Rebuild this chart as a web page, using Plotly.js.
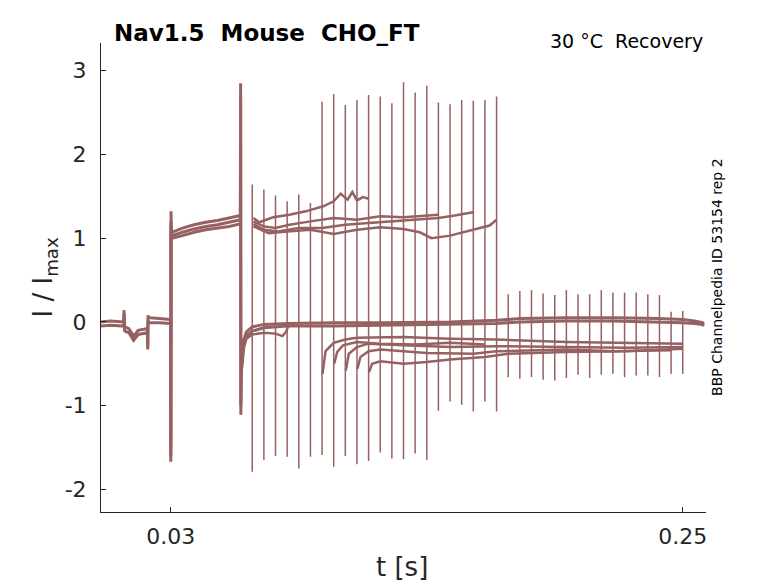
<!DOCTYPE html>
<html>
<head>
<meta charset="utf-8">
<script src="https://cdn.plot.ly/plotly-3.0.1.min.js"></script>
<style>
  html, body { margin: 0; padding: 0; background: #fff; }
  #plot { width: 778px; height: 583px; }
</style>
</head>
<body>
<div id="plot"></div>
<script>
// holding + first pulse (P1), several sweeps overlap so a few edges are drawn
var holdT = [0, 0.004, 0.0098, 0.0099, 0.0101, 0.0103, 0.012, 0.014, 0.016, 0.018, 0.0199, 0.0201, 0.0202, 0.0204, 0.025, 0.0299];
var holdI = [0.0, 0.01, 0.0, 0.14, -0.05, -0.06, -0.08, -0.17, -0.1, -0.09, -0.08, -0.33, 0.08, 0.05, 0.04, 0.03];
var holdI2 = [-0.05, -0.04, -0.05, 0.1, -0.1, -0.11, -0.13, -0.22, -0.15, -0.14, -0.13, -0.3, 0.02, -0.01, -0.01, -0.02];

var p1T = [0.0299, 0.03, 0.0301, 0.0302, 0.0305, 0.035, 0.04, 0.045, 0.05, 0.055, 0.0599];
var p1I = [0.03, -1.67, 1.32, 1.08, 1.07, 1.12, 1.16, 1.19, 1.21, 1.24, 1.27];
var p1I2 = [0.02, -1.6, 1.2, 1.03, 1.03, 1.07, 1.11, 1.14, 1.16, 1.19, 1.22];
var p1I3 = [0.0, -1.5, 1.15, 1.0, 1.0, 1.03, 1.07, 1.1, 1.12, 1.14, 1.17];

// back to holding after P1 (baseline up to the end)
var baseT = [0.0599, 0.06, 0.0601, 0.0603, 0.061, 0.0625, 0.065, 0.07, 0.08, 0.1, 0.12, 0.15, 0.17, 0.18, 0.2, 0.22, 0.24, 0.25, 0.255, 0.2585, 0.259];
var baseI = [1.24, 2.85, -1.11, -0.53, -0.25, -0.12, -0.06, -0.03, -0.02, -0.01, -0.01, 0.0, 0.02, 0.04, 0.05, 0.05, 0.04, 0.03, 0.01, -0.01, -0.03];
var baseI2 = [1.18, 2.7, -1.0, -0.6, -0.3, -0.17, -0.11, -0.07, -0.05, -0.05, -0.04, -0.03, -0.02, 0.0, 0.01, 0.01, 0.0, -0.01, -0.02, -0.03, -0.05];
var dipT = [0.0603, 0.0615, 0.0625, 0.065, 0.07, 0.075, 0.078, 0.0795, 0.0805];
var dipI = [-0.62, -0.3, -0.2, -0.15, -0.13, -0.14, -0.17, -0.12, -0.05];

// upper group (second pulse level), one array pair per sweep
var up1T = [0.0655, 0.068, 0.074, 0.081, 0.088, 0.0955, 0.1, 0.103, 0.106, 0.108, 0.11, 0.1125, 0.115];
var up1I = [1.24, 1.19, 1.25, 1.28, 1.32, 1.38, 1.44, 1.53, 1.46, 1.55, 1.45, 1.49, 1.47];
var up2T = [0.0655, 0.07, 0.075, 0.081, 0.09, 0.1, 0.11, 0.12, 0.13, 0.14, 0.145];
var up2I = [1.2, 1.14, 1.12, 1.16, 1.2, 1.24, 1.22, 1.26, 1.25, 1.27, 1.28];
var up3T = [0.0655, 0.07, 0.076, 0.085, 0.095, 0.105, 0.115, 0.125, 0.135, 0.145, 0.152, 0.16];
var up3I = [1.17, 1.1, 1.08, 1.12, 1.12, 1.16, 1.18, 1.2, 1.22, 1.24, 1.27, 1.31];
var up4T = [0.0655, 0.072, 0.08, 0.09, 0.1, 0.11, 0.12, 0.13, 0.137, 0.142, 0.15, 0.16, 0.167, 0.17];
var up4I = [1.14, 1.06, 1.08, 1.1, 1.05, 1.1, 1.13, 1.11, 1.07, 1.0, 1.03, 1.1, 1.15, 1.22];

// lower group (after the second pulse)
var lo1T = [0.0952, 0.0965, 0.1, 0.105, 0.11, 0.13, 0.15, 0.17, 0.2, 0.225, 0.25];
var lo1I = [-0.62, -0.35, -0.25, -0.21, -0.19, -0.18, -0.2, -0.21, -0.24, -0.25, -0.26];
var lo2T = [0.1052, 0.1065, 0.11, 0.115, 0.13, 0.15, 0.17, 0.2, 0.225, 0.25];
var lo2I = [-0.58, -0.38, -0.3, -0.26, -0.28, -0.3, -0.29, -0.3, -0.31, -0.3];
var lo3T = [0.1102, 0.1115, 0.115, 0.12, 0.14, 0.16, 0.17, 0.2, 0.22, 0.245];
var lo3I = [-0.56, -0.42, -0.35, -0.33, -0.37, -0.38, -0.35, -0.33, -0.35, -0.34];
var lo4T = [0.1152, 0.1165, 0.12, 0.13, 0.14, 0.15, 0.165, 0.175, 0.2, 0.225, 0.25];
var lo4I = [-0.6, -0.5, -0.47, -0.5, -0.48, -0.45, -0.42, -0.38, -0.36, -0.35, -0.32];
var lo5T = [0.1002, 0.1015, 0.104, 0.11, 0.12, 0.135, 0.15, 0.165];
var lo5I = [-0.5, -0.36, -0.28, -0.24, -0.26, -0.27, -0.25, -0.27];

// capacitive artefacts of the test steps
var stepT = [0.065, 0.07, 0.075, 0.08, 0.085, 0.09, 0.095, 0.1, 0.105, 0.11, 0.115, 0.12, 0.125,
             0.13, 0.135, 0.14, 0.145, 0.15, 0.155, 0.16, 0.165, 0.17, 0.175, 0.18, 0.185,
             0.19, 0.195, 0.2, 0.205, 0.21, 0.215, 0.22, 0.225, 0.23, 0.235, 0.24, 0.245, 0.25];
var stepTop = [1.64, 1.58, 1.51, 1.44, 1.52, 1.42, 2.63, 2.72, 2.59, 2.65, 2.71, 2.69, 2.61,
               2.86, 2.74, 2.82, 2.62, 2.6, 2.65, 2.64, 2.65, 2.69, 0.33, 0.37, 0.38,
               0.34, 0.32, 0.38, 0.33, 0.33, 0.38, 0.35, 0.35, 0.35, 0.33, 0.32, 0.12, 0.13];
var stepBot = [-1.79, -1.65, -1.6, -1.61, -1.75, -1.61, -1.59, -1.73, -1.6, -1.7, -1.66, -1.56, -1.63,
               -1.64, -1.57, -1.65, -1.06, -0.95, -0.99, -1.07, -0.95, -1.07, -0.66, -0.68, -0.66,
               -0.69, -0.7, -0.67, -0.63, -0.67, -0.63, -0.62, -0.66, -0.64, -0.64, -0.66, -0.62, -0.62];

var yTicks = [-2, -1, 0, 1, 2, 3];
var yTickText = ["-2", "-1", "0", "1", "2", "3"];
var xTicks = [0.03, 0.25];
var xTickText = ["0.03", "0.25"];

var col = "#966161";
var font = "DejaVu Sans, Liberation Sans, sans-serif";

function line(x, y, w) {
    return {x: x, y: y, type: "scatter", mode: "lines",
            line: {color: col, width: w}, hoverinfo: "skip"};
}

var sx = [], sy = [];
for (var i = 0; i < stepT.length; i++) {
    sx.push(stepT[i], stepT[i], null);
    sy.push(stepBot[i], stepTop[i], null);
}

var data = [
    line(holdT, holdI, 3), line(holdT, holdI2, 3),
    line(p1T, p1I, 3), line(p1T, p1I2, 3), line(p1T, p1I3, 3),
    line(baseT, baseI, 3), line(baseT, baseI2, 3),
    line(dipT, dipI, 2.5),
    line(up1T, up1I, 2.5), line(up2T, up2I, 2.5), line(up3T, up3I, 2.5), line(up4T, up4I, 2.5),
    line(lo1T, lo1I, 2.5), line(lo2T, lo2I, 2.5), line(lo3T, lo3I, 2.5), line(lo4T, lo4I, 2.5), line(lo5T, lo5I, 2.5),
    line(sx, sy, 1.5)
];

var layout = {
    width: 778, height: 583,
    margin: {l: 101, r: 72, t: 43, b: 71},
    paper_bgcolor: "#fff", plot_bgcolor: "#fff",
    showlegend: false,
    font: {family: font, color: "#262626"},
    xaxis: {
        range: [0, 0.26], tickvals: xTicks, ticktext: xTickText,
        ticks: "inside", ticklen: 5, tickcolor: "#262626",
        showline: true, linecolor: "#262626", linewidth: 1,
        showgrid: false, zeroline: false,
        tickfont: {size: 22, color: "#262626"}, ticklabelstandoff: 5
    },
    yaxis: {
        range: [-2.27, 3.33], tickvals: yTicks, ticktext: yTickText,
        ticks: "inside", ticklen: 5, tickcolor: "#262626",
        showline: true, linecolor: "#262626", linewidth: 1,
        showgrid: false, zeroline: false,
        tickfont: {size: 22, color: "#262626"}, ticklabelstandoff: 9
    },
    annotations: [
        {text: "<b>Nav1.5\u00a0\u00a0Mouse\u00a0\u00a0CHO_FT</b>", xref: "paper", yref: "paper",
         x: 0.018, y: 1.021, xanchor: "left", yanchor: "middle", showarrow: false,
         font: {size: 23, color: "#000"}},
        {text: "30 \u00b0C\u00a0\u00a0Recovery", xref: "paper", yref: "paper",
         x: 0.999, y: 1.004, xanchor: "right", yanchor: "middle", showarrow: false,
         font: {size: 19, color: "#000"}},
        {text: "BBP Channelpedia ID 53154 rep 2", xref: "paper", yref: "paper",
         x: 1.018, y: 0.501, xanchor: "center", yanchor: "middle", textangle: -90, showarrow: false,
         font: {size: 14, color: "#000"}},
        {text: "I / I<sub>max</sub>", xref: "paper", yref: "paper",
         x: -0.0926, y: 0.5, xanchor: "center", yanchor: "middle", textangle: -90, showarrow: false,
         font: {size: 26, color: "#262626"}},
        {text: "t [s]", xref: "paper", yref: "paper",
         x: 0.497, y: -0.118, xanchor: "center", yanchor: "middle", showarrow: false,
         font: {size: 26, color: "#262626"}}
    ]
};

Plotly.newPlot("plot", data, layout, {staticPlot: true, displayModeBar: false});
</script>
</body>
</html>
